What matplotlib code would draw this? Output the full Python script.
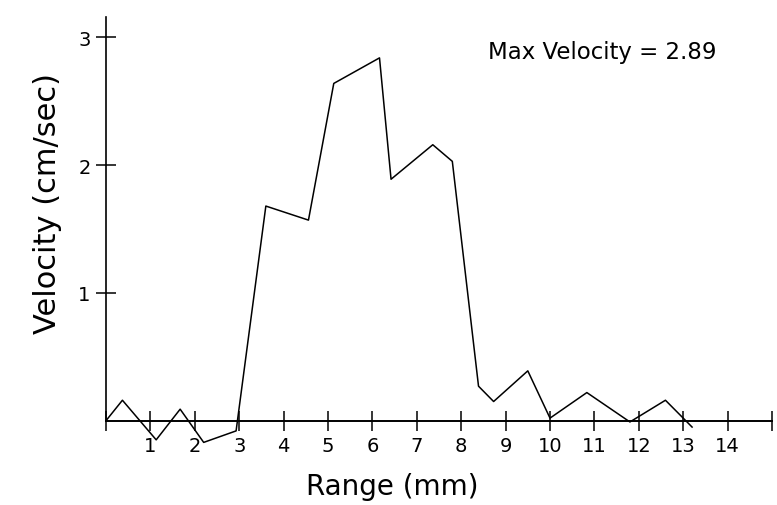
import numpy as np
import matplotlib
matplotlib.use("Agg")
import matplotlib.pyplot as plt

# valores
range_mm = [0.0, 0.37, 1.13, 1.67, 2.2, 2.93, 3.6, 4.56, 5.13, 6.16, 6.42,
            7.36, 7.8, 8.39, 8.73, 9.5, 10.0, 10.83, 11.8, 12.6, 13.0, 13.2]
velocity = [0.0, 0.16, -0.15, 0.09, -0.17, -0.08, 1.68, 1.57, 2.64, 2.84, 1.89,
            2.16, 2.03, 0.27, 0.15, 0.39, 0.02, 0.22, -0.01, 0.16, 0.02, -0.05]
x_ticks = list(range(0, 16))
x_labels = [''] + [str(i) for i in range(1, 15)] + ['']
y_ticks = [1, 2, 3]
y_labels = ['1', '2', '3']
max_vel_text = 'Max Velocity = 2.89'

plt.rcParams['font.family'] = ['DejaVu Sans']

fig = plt.figure(figsize=(7.77, 5.06), dpi=100)
ax = fig.add_axes([106 / 777, 1 - 460 / 506, 666 / 777, 442 / 506])

ax.plot(range_mm, velocity, color='black', linewidth=1.1)

ax.set_xlim(0, 15)
ax.set_ylim(-0.3, 3.16)

for side in ['top', 'right']:
    ax.spines[side].set_visible(False)
ax.spines['bottom'].set_position(('data', 0))
ax.spines['left'].set_bounds(0, 3.16)
ax.spines['bottom'].set_linewidth(1.4)
ax.spines['left'].set_linewidth(1.2)

ax.set_xticks(x_ticks)
ax.set_xticklabels(x_labels)
ax.set_yticks(y_ticks)
ax.set_yticklabels(y_labels)
ax.tick_params(axis='both', direction='inout', length=14, width=1.1,
               labelsize=14, pad=4)

ax.set_xlabel('Range (mm)', fontsize=20)
ax.xaxis.set_label_coords(0.43, -0.03)
ax.set_ylabel('Velocity (cm/sec)', fontsize=22)
ax.yaxis.set_label_coords(-0.066, 0.58)

ax.text(8.6, 2.89, max_vel_text, fontsize=16.5, va='center', ha='left')

fig.savefig('out.png', dpi=100)
